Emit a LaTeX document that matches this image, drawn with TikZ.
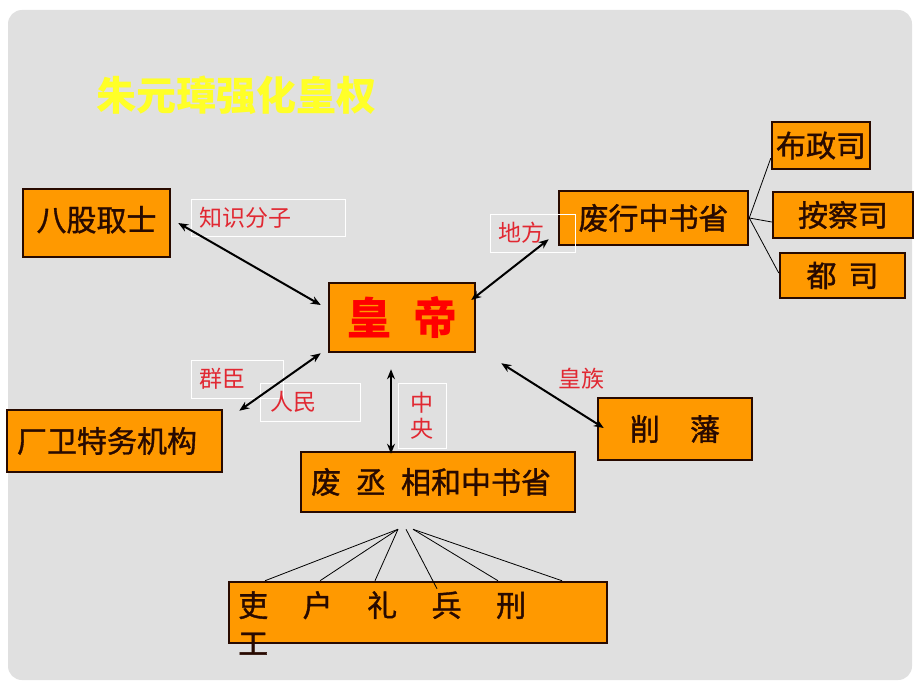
\documentclass[tikz,border=0pt]{standalone}
\usepackage{fontspec}
\setmainfont{Noto Sans CJK SC}
\newfontfamily\boxfont{Noto Sans CJK SC}[FakeBold=1.2]
\usepackage{tikz}
\usetikzlibrary{arrows.meta}
\definecolor{slidegray}{RGB}{224,224,224}
\definecolor{boxorange}{RGB}{255,153,0}
\definecolor{boxline}{RGB}{40,10,0}
\definecolor{labelred}{RGB}{225,40,50}
\definecolor{titleyellow}{RGB}{255,255,40}

\begin{document}
\begin{tikzpicture}[x=1pt,y=-1pt,
  box/.style={draw=boxline,line width=2.5pt,fill=boxorange,text=boxline,inner sep=0pt,font=\boxfont\fontsize{30}{36}\selectfont},
  tag/.style={draw=white,line width=0.8pt,text=labelred,inner sep=0pt,font=\fontsize{23}{26}\selectfont},
  twoway/.style={{Stealth[length=10pt,width=8pt]}-{Stealth[length=10pt,width=8pt]},line width=2pt},
  branch/.style={line width=0.8pt}]
  \fill[white] (0,0) rectangle (920,690);
  \fill[slidegray,rounded corners=14pt] (8,10) rectangle (912,680);
  \useasboundingbox (0,0) rectangle (920,690);
  \node[text=titleyellow,font=\fontsize{40}{48}\selectfont\bfseries] (title) at (236.5,95) {朱元璋强化皇权};
  % boxes
  \node[box,minimum width=147pt,minimum height=68pt] (bagu) at (96.5,223) {\raisebox{9pt}{八股取士}};
  \node[box,minimum width=146pt,minimum height=69pt,text=red,font=\fontsize{44}{50}\selectfont\bfseries] (huangdi) at (402,317.5) {皇\hspace{0.5em}帝};
  \node[box,minimum width=189pt,minimum height=54pt] (feixing) at (653.5,218) {废行中书省};
  \node[box,minimum width=98pt,minimum height=47pt] (buzheng) at (821,145.5) {布政司};
  \node[box,minimum width=140pt,minimum height=46pt] (ancha) at (843,215) {按察司};
  \node[box,minimum width=125pt,minimum height=45pt] (dusi) at (842.5,275.5) {都\hspace{0.4em}司};
  \node[box,minimum width=215pt,minimum height=62pt,text width=195pt,align=left] (changwei) at (114.5,441) {厂卫特务机构};
  \node[box,minimum width=274pt,minimum height=60pt,text width=254pt,align=left] (feicheng) at (438,482) {废\hspace{0.5em}丞\hspace{0.5em}相和中书省};
  \node[box,minimum width=154pt,minimum height=62pt] (xuefan) at (675,429) {削\hspace{1em}藩};
  \node[box,minimum width=378pt,minimum height=61pt] (liubu) at (418,612.5) {};
  \node[anchor=north west,text=boxline,inner sep=0pt,align=left,font=\boxfont\fontsize{30}{38}\selectfont] (liubuming) at (238,591) {吏\hspace{1.15em}户\hspace{1.15em}礼\hspace{1.15em}兵\hspace{1.15em}刑\\工};
  % labels
  \node[tag,minimum width=154pt,minimum height=37pt,text width=138pt,align=left] (zhishi) at (268,217.5) {知识分子};
  \node[tag,minimum width=85pt,minimum height=38pt,text width=69pt,align=left] (difang) at (532.5,233) {地方};
  \node[tag,minimum width=92pt,minimum height=38pt,text width=76pt,align=left] (qunchen) at (237,379) {群臣};
  \node[tag,minimum width=100pt,minimum height=38pt,text width=80pt,align=left] (renmin) at (310,402) {人民};
  \node[tag,minimum width=48pt,minimum height=65pt,align=center] (zhongyang) at (422,415.5) {中\\央};
  \node[text=labelred,inner sep=0pt,font=\fontsize{23}{26}\selectfont] (huangzu) at (581,379) {皇族};
  % arrows
  \draw[twoway] ([xshift=7pt]bagu.east) -- ([xshift=-7pt,yshift=12.5pt]huangdi.west);
  \draw[twoway] ([xshift=-5pt,yshift=17.5pt]huangdi.east) -- ([xshift=-9pt,yshift=7pt]feixing.south west);
  \draw[twoway] ([xshift=16pt,yshift=-2pt]changwei.north east) -- ([xshift=-7pt]huangdi.south west);
  \draw[twoway] ([xshift=-11pt,yshift=-16pt]huangdi.south) -- ([xshift=-47pt,yshift=-3pt]feicheng.north);
  \draw[twoway] ([xshift=25pt,yshift=-10pt]huangdi.south east) -- ([xshift=7pt,yshift=1pt]xuefan.west);
  % branches
  \draw[branch] (feixing.east) -- ([yshift=12pt]buzheng.south west);
  \draw[branch] (feixing.east) -- ([yshift=-7pt]ancha.west);
  \draw[branch] (feixing.east) -- ([yshift=2.5pt]dusi.west);
  \draw[branch] ([xshift=-40pt,yshift=-16pt]feicheng.south) -- ([xshift=-153pt]liubu.north);
  \draw[branch] ([xshift=-40pt,yshift=-16pt]feicheng.south) -- ([xshift=-98pt]liubu.north);
  \draw[branch] ([xshift=-40pt,yshift=-16pt]feicheng.south) -- ([xshift=-43pt]liubu.north);
  \draw[branch] ([xshift=-32pt,yshift=-16pt]feicheng.south) -- ([xshift=19pt,yshift=-8pt]liubu.north);
  \draw[branch] ([xshift=-25pt,yshift=-16pt]feicheng.south) -- ([xshift=80pt]liubu.north);
  \draw[branch] ([xshift=-25pt,yshift=-16pt]feicheng.south) -- ([xshift=144pt]liubu.north);
\end{tikzpicture}
\end{document}
